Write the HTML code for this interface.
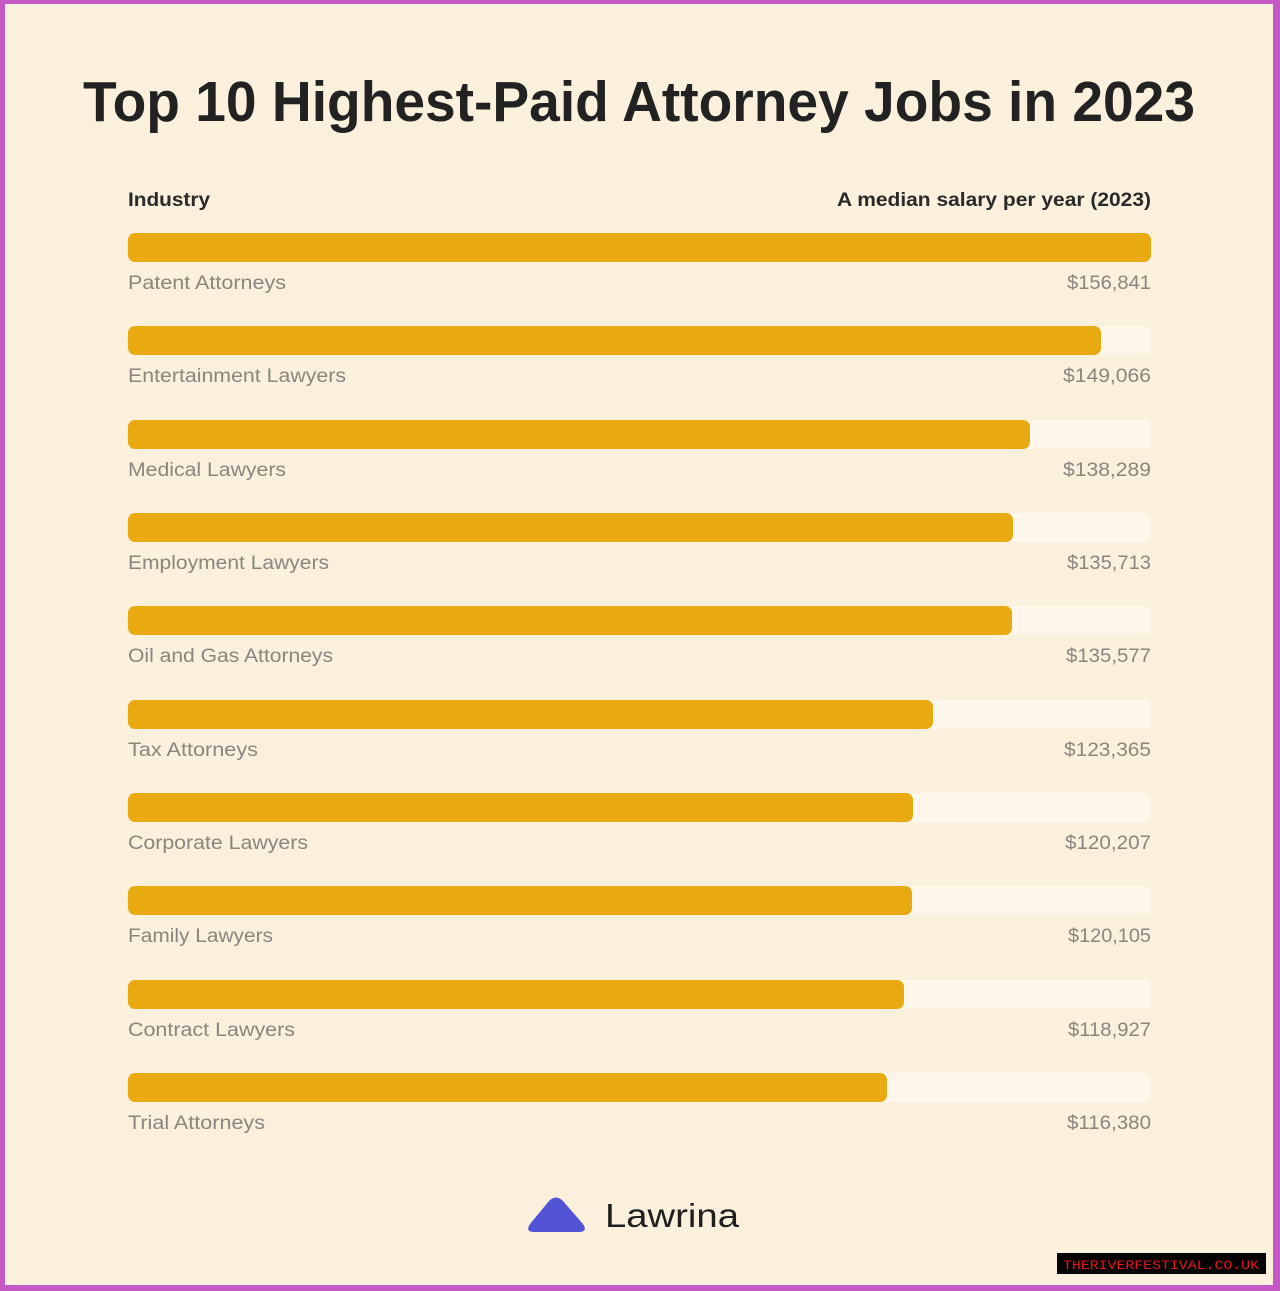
<!DOCTYPE html>
<html>
<head>
<meta charset="utf-8">
<style>
  html, body { margin:0; padding:0; }
  body { width:1280px; height:1291px; overflow:hidden; background:#C458C4; }
  svg { display:block; }
</style>
</head>
<body>
<svg width="1280" height="1291" viewBox="0 0 1280 1291" xmlns="http://www.w3.org/2000/svg">
  <rect x="0" y="0" width="1280" height="1291" fill="#C458C4"/>
  <rect x="5" y="4" width="1268" height="1281" fill="#FAF0DC"/>

  <text x="83" y="121" font-family="Liberation Sans, sans-serif" font-weight="bold" font-size="57" fill="#222222" textLength="1112" lengthAdjust="spacingAndGlyphs">Top 10 Highest-Paid Attorney Jobs in 2023</text>

  <text x="128" y="206" font-family="Liberation Sans, sans-serif" font-weight="bold" font-size="19" fill="#2a2a2a" textLength="82" lengthAdjust="spacingAndGlyphs">Industry</text>
  <text x="837" y="206" font-family="Liberation Sans, sans-serif" font-weight="bold" font-size="19" fill="#2a2a2a" textLength="314" lengthAdjust="spacingAndGlyphs">A median salary per year (2023)</text>

  <g font-family="Liberation Sans, sans-serif" font-size="19" fill="#8a857e">
    <!-- Row 1 -->
    <rect x="128" y="233" width="1023" height="29" rx="7" fill="#FDF7EB"/>
    <rect x="128" y="233" width="1023" height="29" rx="7" fill="#E8A911"/>
    <text x="128" y="289" textLength="158" lengthAdjust="spacingAndGlyphs">Patent Attorneys</text>
    <text x="1067" y="289" textLength="84" lengthAdjust="spacingAndGlyphs">$156,841</text>

    <!-- Row 2 -->
    <rect x="128" y="326" width="1023" height="29" rx="7" fill="#FDF7EB"/>
    <rect x="128" y="326" width="973" height="29" rx="7" fill="#E8A911"/>
    <text x="128" y="382" textLength="218" lengthAdjust="spacingAndGlyphs">Entertainment Lawyers</text>
    <text x="1063" y="382" textLength="88" lengthAdjust="spacingAndGlyphs">$149,066</text>

    <!-- Row 3 -->
    <rect x="128" y="420" width="1023" height="29" rx="7" fill="#FDF7EB"/>
    <rect x="128" y="420" width="902" height="29" rx="7" fill="#E8A911"/>
    <text x="128" y="476" textLength="158" lengthAdjust="spacingAndGlyphs">Medical Lawyers</text>
    <text x="1063" y="476" textLength="88" lengthAdjust="spacingAndGlyphs">$138,289</text>

    <!-- Row 4 -->
    <rect x="128" y="513" width="1023" height="29" rx="7" fill="#FDF7EB"/>
    <rect x="128" y="513" width="885" height="29" rx="7" fill="#E8A911"/>
    <text x="128" y="569" textLength="201" lengthAdjust="spacingAndGlyphs">Employment Lawyers</text>
    <text x="1067" y="569" textLength="84" lengthAdjust="spacingAndGlyphs">$135,713</text>

    <!-- Row 5 -->
    <rect x="128" y="606" width="1023" height="29" rx="7" fill="#FDF7EB"/>
    <rect x="128" y="606" width="884" height="29" rx="7" fill="#E8A911"/>
    <text x="128" y="662" textLength="205" lengthAdjust="spacingAndGlyphs">Oil and Gas Attorneys</text>
    <text x="1066" y="662" textLength="85" lengthAdjust="spacingAndGlyphs">$135,577</text>

    <!-- Row 6 -->
    <rect x="128" y="700" width="1023" height="29" rx="7" fill="#FDF7EB"/>
    <rect x="128" y="700" width="805" height="29" rx="7" fill="#E8A911"/>
    <text x="128" y="756" textLength="130" lengthAdjust="spacingAndGlyphs">Tax Attorneys</text>
    <text x="1064" y="756" textLength="87" lengthAdjust="spacingAndGlyphs">$123,365</text>

    <!-- Row 7 -->
    <rect x="128" y="793" width="1023" height="29" rx="7" fill="#FDF7EB"/>
    <rect x="128" y="793" width="785" height="29" rx="7" fill="#E8A911"/>
    <text x="128" y="849" textLength="180" lengthAdjust="spacingAndGlyphs">Corporate Lawyers</text>
    <text x="1065" y="849" textLength="86" lengthAdjust="spacingAndGlyphs">$120,207</text>

    <!-- Row 8 -->
    <rect x="128" y="886" width="1023" height="29" rx="7" fill="#FDF7EB"/>
    <rect x="128" y="886" width="784" height="29" rx="7" fill="#E8A911"/>
    <text x="128" y="942" textLength="145" lengthAdjust="spacingAndGlyphs">Family Lawyers</text>
    <text x="1068" y="942" textLength="83" lengthAdjust="spacingAndGlyphs">$120,105</text>

    <!-- Row 9 -->
    <rect x="128" y="980" width="1023" height="29" rx="7" fill="#FDF7EB"/>
    <rect x="128" y="980" width="776" height="29" rx="7" fill="#E8A911"/>
    <text x="128" y="1036" textLength="167" lengthAdjust="spacingAndGlyphs">Contract Lawyers</text>
    <text x="1068" y="1036" textLength="83" lengthAdjust="spacingAndGlyphs">$118,927</text>

    <!-- Row 10 -->
    <rect x="128" y="1073" width="1023" height="29" rx="7" fill="#FDF7EB"/>
    <rect x="128" y="1073" width="759" height="29" rx="7" fill="#E8A911"/>
    <text x="128" y="1129" textLength="137" lengthAdjust="spacingAndGlyphs">Trial Attorneys</text>
    <text x="1067" y="1129" textLength="84" lengthAdjust="spacingAndGlyphs">$116,380</text>
  </g>

  <!-- Logo -->
  <path d="M 549 1201 Q 556 1194 563 1201 L 583 1224 Q 588 1232 579 1232 L 534 1232 Q 525 1232 530 1224 Z" fill="#5353D6"/>
  <text x="605" y="1227" font-family="Liberation Sans, sans-serif" font-size="33" fill="#1f1f1f" textLength="134" lengthAdjust="spacingAndGlyphs">Lawrina</text>

  <!-- Watermark -->
  <rect x="1057" y="1253" width="209" height="21" fill="#050505"/>
  <text x="1063" y="1269" font-family="Liberation Mono, monospace" font-size="13" fill="#E8141C" textLength="196" lengthAdjust="spacingAndGlyphs">THERIVERFESTIVAL.CO.UK</text>
</svg>
</body>
</html>
